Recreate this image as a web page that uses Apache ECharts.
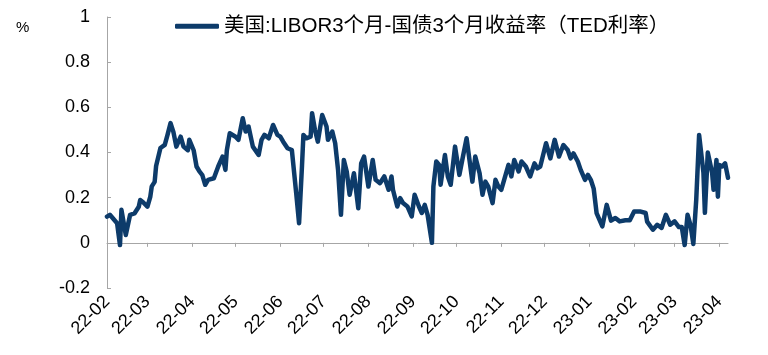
<!DOCTYPE html>
<html>
<head>
<meta charset="utf-8">
<script src="https://cdn.jsdelivr.net/npm/echarts@6/dist/echarts.min.js"></script>
<style>
html,body{margin:0;padding:0;background:#fff;}
#chart{width:768px;height:355px;}
</style>
</head>
<body>
<div id="chart"></div>
<script>
const seriesName = '美国:LIBOR3个月-国债3个月收益率（TED利率）';
const unitLabel = '%';
const axisStart = '2022-02-01';
const axisEnd = '2023-04-07';
const yTicks = [-0.2, 0, 0.2, 0.4, 0.6, 0.8, 1];

const dates = [
'2022-02-01','2022-02-03','2022-02-08','2022-02-10','2022-02-11','2022-02-14','2022-02-17','2022-02-20','2022-02-23','2022-02-24','2022-02-26',
'2022-03-01','2022-03-03','2022-03-04','2022-03-06','2022-03-07','2022-03-10','2022-03-13','2022-03-15','2022-03-17','2022-03-19','2022-03-21','2022-03-24','2022-03-26','2022-03-29','2022-03-30',
'2022-04-02','2022-04-04','2022-04-06','2022-04-08','2022-04-10','2022-04-12','2022-04-16','2022-04-19','2022-04-22','2022-04-24','2022-04-25','2022-04-27',
'2022-05-01','2022-05-03','2022-05-06','2022-05-08','2022-05-10','2022-05-13','2022-05-17','2022-05-19','2022-05-21','2022-05-24','2022-05-27','2022-05-30',
'2022-06-01','2022-06-03','2022-06-06','2022-06-09','2022-06-12','2022-06-14','2022-06-16','2022-06-17','2022-06-19','2022-06-22','2022-06-23','2022-06-25','2022-06-27','2022-06-30',
'2022-07-03','2022-07-04','2022-07-07','2022-07-09','2022-07-11','2022-07-13','2022-07-15','2022-07-17','2022-07-19','2022-07-22','2022-07-23','2022-07-25','2022-07-27','2022-07-29',
'2022-08-01','2022-08-04','2022-08-06','2022-08-09','2022-08-12','2022-08-15','2022-08-17','2022-08-18','2022-08-21','2022-08-23','2022-08-25','2022-08-28','2022-08-31',
'2022-09-02','2022-09-05','2022-09-07','2022-09-09','2022-09-11','2022-09-14','2022-09-15','2022-09-17','2022-09-19','2022-09-20','2022-09-23','2022-09-25','2022-09-27','2022-09-30',
'2022-10-03','2022-10-05','2022-10-08','2022-10-10','2022-10-12','2022-10-14','2022-10-17','2022-10-19','2022-10-21','2022-10-23','2022-10-26','2022-10-28','2022-10-30',
'2022-11-01','2022-11-04','2022-11-06','2022-11-08','2022-11-10','2022-11-13','2022-11-15','2022-11-18','2022-11-21','2022-11-24','2022-11-26','2022-11-28',
'2022-12-02','2022-12-05','2022-12-08','2022-12-11','2022-12-14','2022-12-17','2022-12-19','2022-12-21','2022-12-24','2022-12-26','2022-12-29','2022-12-31',
'2023-01-02','2023-01-04','2023-01-06','2023-01-10','2023-01-13','2023-01-16','2023-01-19','2023-01-22','2023-01-26','2023-01-29',
'2023-02-01','2023-02-05','2023-02-09','2023-02-10','2023-02-11','2023-02-14','2023-02-17','2023-02-20','2023-02-23','2023-02-26',
'2023-03-01','2023-03-04','2023-03-06','2023-03-08','2023-03-10','2023-03-12','2023-03-14','2023-03-16','2023-03-18','2023-03-21','2023-03-22','2023-03-24','2023-03-27','2023-03-28','2023-03-30','2023-03-31',
'2023-04-01','2023-04-03','2023-04-05','2023-04-07'
];
const values = [
0.116,0.124,0.087,-0.01,0.146,0.035,0.124,0.13,0.16,0.19,0.18,
0.16,0.205,0.25,0.27,0.34,0.42,0.434,0.48,0.53,0.49,0.426,0.47,0.426,0.41,0.456,
0.41,0.338,0.316,0.30,0.257,0.279,0.286,0.338,0.382,0.323,0.411,0.485,
0.47,0.456,0.552,0.493,0.515,0.426,0.389,0.456,0.478,0.463,0.522,0.478,
0.47,0.448,0.419,0.411,0.22,0.087,0.338,0.478,0.463,0.47,0.574,0.5,0.448,0.566,
0.515,0.456,0.493,0.441,0.323,0.124,0.367,0.316,0.213,0.308,0.257,0.153,0.352,0.382,
0.249,0.367,0.279,0.264,0.294,0.235,0.294,0.235,0.161,0.198,0.176,0.161,0.117,
0.213,0.161,0.132,0.168,0.124,0.0,0.249,0.36,0.345,0.257,0.389,0.294,0.257,0.426,
0.301,0.367,0.463,0.367,0.271,0.382,0.308,0.213,0.271,0.249,0.176,0.279,0.249,
0.235,0.301,0.345,0.294,0.367,0.316,0.36,0.338,0.294,0.352,0.33,0.338,
0.441,0.374,0.456,0.382,0.433,0.411,0.374,0.396,0.36,0.323,0.279,0.301,
0.279,0.24,0.132,0.073,0.168,0.098,0.11,0.095,0.10,0.10,
0.139,0.139,0.132,0.094,0.088,0.058,0.08,0.066,0.124,0.08,
0.095,0.07,0.07,-0.01,0.124,0.08,-0.005,0.19,0.478,0.31,0.133,0.40,0.31,0.235,0.367,0.204,
0.345,0.338,0.352,0.288
];

// build daily category axis
function fmt(d){
  const y=d.getUTCFullYear(), m=d.getUTCMonth()+1, dd=d.getUTCDate();
  return y+'-'+(m<10?'0':'')+m+'-'+(dd<10?'0':'')+dd;
}
const days = [];
{
  let d = new Date(axisStart+'T00:00:00Z');
  const e = new Date(axisEnd+'T00:00:00Z');
  while (d <= e) { days.push(fmt(d)); d = new Date(d.getTime()+86400000); }
}
const lookup = {};
dates.forEach((d,i)=>{ lookup[d]=values[i]; });
const seriesData = days.map(d => (d in lookup) ? lookup[d] : null);

const isMonthStart = (idx, val) => val.slice(8) === '01';
const FONT = "'Liberation Sans', Arial, 'Noto Sans CJK SC', sans-serif";
const axisGray = '#a6a6a6';

const chart = echarts.init(document.getElementById('chart'), null, {renderer:'canvas'});
chart.setOption({
  animation:false,
  backgroundColor:'#fff',
  textStyle:{fontFamily:FONT},
  grid:{left:107, right:40, top:17, bottom:67, containLabel:false},
  legend:{
    data:[seriesName],
    left:175, top:16, padding:0,
    icon:'roundRect', itemWidth:44, itemHeight:5, itemGap:10,
    textStyle:{fontSize:20.5, color:'#000', fontFamily:FONT}
  },
  graphic:[{
    type:'text', left:16, top:20,
    style:{text:unitLabel, fontSize:15, fill:'#000', fontFamily:FONT}
  }],
  xAxis:[{
    type:'category', data:days, boundaryGap:false, position:'bottom',
    axisLine:{show:false, onZero:false}, axisTick:{show:false},
    axisLabel:{interval:isMonthStart, rotate:45, margin:11, fontSize:18, color:'#000',
      fontFamily:FONT, formatter:v=>v.slice(2,7)},
    splitLine:{show:false}
  },{
    type:'category', data:days, boundaryGap:false, position:'bottom',
    axisLine:{show:true, onZero:true, lineStyle:{color:axisGray, width:1}},
    axisTick:{show:true, interval:isMonthStart, length:4, inside:false, lineStyle:{color:axisGray}},
    axisLabel:{show:false}, splitLine:{show:false}
  }],
  yAxis:{
    type:'value', min:-0.2, max:1, interval:0.2,
    axisLine:{show:true, lineStyle:{color:axisGray}},
    axisTick:{show:true, inside:true, length:4, lineStyle:{color:axisGray}},
    axisLabel:{fontSize:18, color:'#000', margin:17, fontFamily:FONT,
      formatter:v=>String(+v.toFixed(1))},
    splitLine:{show:false}
  },
  series:[{
    name:seriesName, type:'line', xAxisIndex:0, data:seriesData,
    connectNulls:true, showSymbol:false, symbol:'none',
    lineStyle:{color:'#0d3b6a', width:4.5, join:'round', cap:'round'},
    itemStyle:{color:'#0d3b6a'}
  }]
});
</script>
</body>
</html>
